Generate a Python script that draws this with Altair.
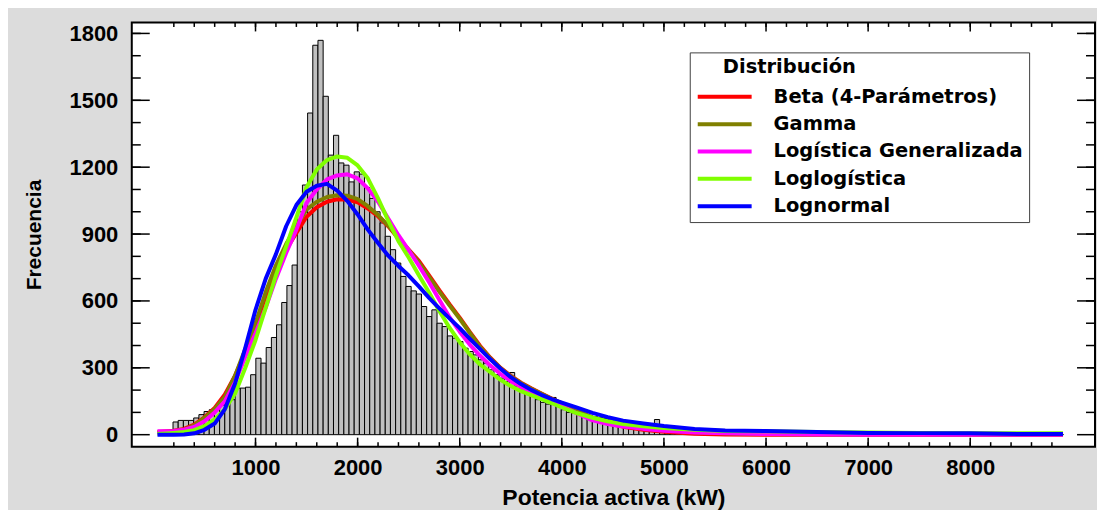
import altair as alt
import pandas as pd

# ---------------- data ----------------
bin_start = 192.0      # kW, left edge of first class
bin_width = 50.7       # kW
counts = [
    57, 64, 64, 64, 75, 90, 104, 112, 122, 132,
    142, 157, 209, 209, 213, 269, 343, 321, 391, 436,
    493, 593, 669, 761, 1000, 1120, 1443, 1747, 1769, 1518,
    1254, 1343, 1219, 1209, 1134, 1179, 1169, 1109, 1060, 1000,
    950, 890, 830, 770, 710, 665, 645, 631, 575, 530,
    560, 500, 485, 443, 433, 418, 388, 373, 358, 336,
    321, 291, 269, 254, 239, 279, 216, 201, 187, 172,
    157, 145, 137, 167, 127, 112, 100, 96, 93, 89,
    85, 81, 78, 73, 70, 66, 62, 58, 55, 51,
    48, 45, 41, 68, 36, 33, 29, 25, 22, 19,
    17, 15, 13, 12, 11, 10, 9, 8, 8, 7,
    6, 6, 5, 5, 5, 4, 4, 4, 3, 3,
    3, 3, 2, 2, 2, 2, 2, 2, 1, 2,
    1, 1, 1, 1, 1, 1, 1, 1, 1, 1,
    1, 1, 0, 1, 1, 1, 0, 1, 1, 0,
    1, 1, 1, 0, 1, 0, 1, 1, 0, 1,
    0, 1, 0, 1, 1, 0, 0, 1, 0, 1,
    0, 1,
]

curve_x = [40, 200, 300, 400, 500, 600, 700, 800, 900, 1000,
           1100, 1200, 1300, 1400, 1500, 1600, 1700, 1800, 1900, 2000,
           2100, 2200, 2300, 2400, 2500, 2600, 2700, 2800, 2900, 3000,
           3100, 3200, 3300, 3400, 3500, 3600, 3700, 3800, 3900, 4000,
           4150, 4300, 4450, 4600, 4800, 5000, 5300, 5600, 6000, 6500,
           7000, 7500, 8000, 8500, 8908]

beta_4p = [12, 18, 26, 45, 78, 120, 180, 265, 370, 480,
           605, 725, 830, 905, 978, 1020, 1045, 1056, 1055, 1042,
           1015, 980, 935, 880, 830, 780, 715, 648, 585, 525,
           460, 398, 345, 300, 264, 233, 208, 185, 162, 140,
           103, 72, 50, 36, 22, 13, 4, 1, 0, 0,
           0, 0, 0, 0, 0]
gamma = [8, 14, 22, 42, 75, 115, 170, 265, 385, 500,
         640, 760, 855, 935, 1010, 1045, 1066, 1074, 1072, 1057,
         1025, 985, 938, 882, 828, 772, 708, 642, 580, 520,
         456, 393, 342, 298, 262, 231, 206, 183, 161, 141,
         108, 78, 56, 41, 29, 20, 11, 6, 3, 1,
         0, 0, 0, 0, 0]
logistica_gen = [15, 17, 22, 35, 60, 100, 150, 235, 350, 455,
                 570, 700, 815, 920, 1040, 1100, 1145, 1163, 1168, 1150,
                 1105, 1045, 970, 895, 828, 758, 684, 605, 527, 462,
                 403, 354, 310, 272, 240, 214, 191, 172, 152, 128,
                 95, 64, 48, 37, 26, 18, 10, 6, 3, 1,
                 0, 0, 0, 0, 0]
loglogistica = [3, 8, 12, 20, 38, 68, 115, 185, 300, 425,
                570, 715, 845, 975, 1110, 1190, 1232, 1248, 1242, 1208,
                1150, 1060, 960, 868, 795, 715, 638, 555, 480, 415,
                360, 315, 280, 246, 218, 195, 177, 160, 142, 122,
                96, 76, 60, 48, 38, 30, 22, 17, 15, 12,
                10, 8, 7, 6, 6]
lognormal = [0, 0, 1, 6, 22, 50, 115, 230, 390, 560,
             700, 810, 935, 1030, 1090, 1117, 1125, 1095, 1048, 988,
             920, 860, 803, 757, 714, 665, 614, 567, 522, 478,
             430, 384, 338, 296, 258, 227, 201, 179, 160, 144,
             121, 98, 79, 63, 50, 39, 26, 19, 16, 12,
             8, 7, 6, 3, 3]

series_names = ["Beta (4-Parámetros)", "Gamma", "Logística Generalizada",
                "Loglogística", "Lognormal"]
series_values = [beta_4p, gamma, logistica_gen, loglogistica, lognormal]
series_colors = ["#ff0000", "#808000", "#ff00ff", "#80ff00", "#0000ff"]

x_major = [1000, 2000, 3000, 4000, 5000, 6000, 7000, 8000]
x_minor = list(range(200, 8801, 200))
y_major = [0, 300, 600, 900, 1200, 1500, 1800]
y_minor = list(range(100, 1801, 100))

# ---------------- tables ----------------
bars = pd.DataFrame({
    "x0": [bin_start + i * bin_width for i in range(len(counts))],
    "x1": [bin_start + (i + 1) * bin_width for i in range(len(counts))],
    "count": counts,
})

rows = []
for k, (name, vals) in enumerate(zip(series_names, series_values)):
    for xv, yv in zip(curve_x, vals):
        rows.append({"serie": name, "k": k, "x": xv, "dens": yv})
lines = pd.DataFrame(rows)

W, H = 965, 425
xscale = alt.Scale(domain=[-212, 9222], nice=False, zero=False)
yscale = alt.Scale(domain=[-53.7, 1849.3], nice=False, zero=False)

LF = "Liberation Sans"

x_axis = alt.Axis(values=x_major, format="d", grid=False, domain=False,
                  ticks=False, tickSize=0, labelFont=LF, labelFontSize=22,
                  labelFontWeight="bold", labelColor="black", labelPadding=11,
                  labelFlush=False, title="Potencia activa (kW)",
                  titleFont=LF, titleFontSize=23, titleFontWeight="bold",
                  titleColor="black", titleX=W / 2, titleY=58,
                  titleBaseline="alphabetic", titleAlign="center")
y_axis = alt.Axis(values=y_major, format="d", grid=False, domain=False,
                  ticks=False, tickSize=0, labelFont=LF, labelFontSize=22,
                  labelFontWeight="bold", labelColor="black", labelPadding=14,
                  labelFlush=False, title="Frecuencia",
                  titleFont=LF, titleFontSize=21, titleFontWeight="bold",
                  titleColor="black", titleX=-91, titleY=H / 2, titleAngle=270,
                  titleBaseline="alphabetic", titleAlign="center")

hist = alt.Chart(bars).mark_rect(fill="#c0c0c0", stroke="black", strokeWidth=1).encode(
    x=alt.X("x0:Q", scale=xscale, axis=x_axis),
    x2="x1:Q",
    y=alt.Y("count:Q", scale=yscale, axis=y_axis),
    y2=alt.datum(0),
)

legend = alt.Legend(
    title="\u200b\u00a0\u00a0\u00a0\u00a0Distribución", orient="none", legendX=559, legendY=30,
    direction="vertical", padding=6, strokeColor="#404040", fillColor="white",
    titleFont="DejaVu Sans", titleFontSize=19.5, titleFontWeight="bold",
    titleColor="black", titlePadding=8,
    labelFont="DejaVu Sans", labelFontSize=19.5, labelFontWeight="bold",
    labelColor="black", labelOffset=56, labelLimit=500,
    symbolType="M-1,0H5", symbolSize=324, symbolStrokeWidth=4,
    rowPadding=6.4,
)

curves = alt.Chart(lines).mark_line(strokeWidth=4, strokeJoin="round").encode(
    x=alt.X("x:Q", scale=xscale, axis=x_axis),
    y=alt.Y("dens:Q", scale=yscale, axis=y_axis),
    color=alt.Color("serie:N", scale=alt.Scale(domain=series_names, range=series_colors),
                    legend=legend, sort=series_names),
    detail="k:O",
)


def yticks(vals, x1, x2):
    return alt.Chart(pd.DataFrame({"v": vals})).mark_rule(color="black", strokeWidth=1.5).encode(
        y=alt.Y("v:Q", scale=yscale, axis=y_axis), x=alt.value(x1), x2=alt.value(x2))


def xticks(vals, y1, y2):
    return alt.Chart(pd.DataFrame({"v": vals})).mark_rule(color="black", strokeWidth=1.5).encode(
        x=alt.X("v:Q", scale=xscale, axis=x_axis), y=alt.value(y1), y2=alt.value(y2))


tick_layers = [
    yticks(y_minor, 0, 9), yticks(y_major, 0, 18),
    yticks(y_minor, W - 9, W), yticks(y_major, W - 18, W),
    xticks(x_minor, H - 4.5, H), xticks(x_major, H - 9, H),
    xticks(x_minor, 0, 4.5), xticks(x_major, 0, 9),
]

chart = alt.layer(hist, curves, *tick_layers).properties(
    width=W, height=H,
    autosize=alt.AutoSizeParams(type="none"),
    padding={"left": 124, "top": 14, "right": 2, "bottom": 63},
    background="#dcdcdc",
).configure_view(stroke="black", strokeWidth=2, fill="white")

chart.save("out.html", embed_options={"renderer": "svg", "actions": False})
